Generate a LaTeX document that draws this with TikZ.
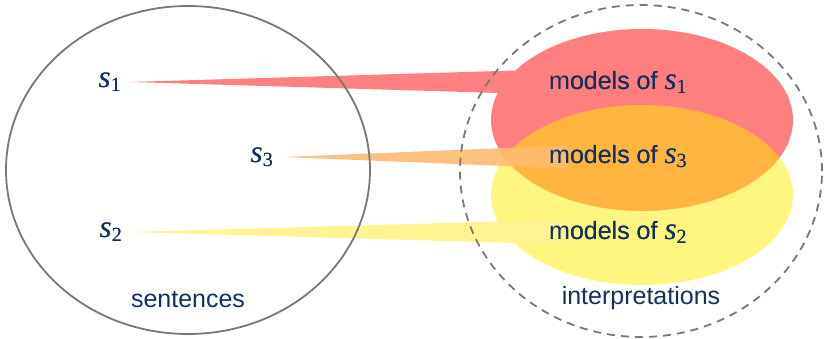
\documentclass[tikz,border=0pt]{standalone}
\usepackage{fontspec}
\setmainfont{Liberation Sans}
\newfontfamily\serifrm{Liberation Serif}
\definecolor{txtblue}{RGB}{16,48,96}
\definecolor{ringgray}{RGB}{120,120,120}
\definecolor{redfill}{RGB}{255,0,0}
\definecolor{yelfill}{RGB}{255,236,0}
\definecolor{redwedge}{RGB}{255,128,128}
\definecolor{orawedge}{RGB}{255,186,112}
\definecolor{yelwedge}{RGB}{255,244,145}
\newcommand{\sv}[1]{{\serifrm\itshape\fontsize{31}{32}\selectfont s}\raisebox{-0.3ex}{\serifrm\fontsize{20}{20}\selectfont #1}}
\tikzset{
  lab/.style={text=txtblue, font=\fontsize{25}{30}\selectfont, inner sep=0pt},
  ring/.style={draw=ringgray, line width=1.8pt},
  dashring/.style={draw=ringgray, line width=1.8pt, dash pattern=on 8pt off 6pt},
}
\begin{document}
\begin{tikzpicture}[x=1pt,y=-1pt]
\useasboundingbox (0,0) rectangle (827,339);
% model ellipses
\fill[redfill, fill opacity=0.5] (642,120) ellipse [x radius=151pt, y radius=91pt];
\fill[yelfill, fill opacity=0.5] (642,195) ellipse [x radius=151pt, y radius=90pt];
% labels
\node[lab, anchor=east] (s1) at (121,82) {\sv1};
\node[lab, anchor=east] (s3) at (273,157) {\sv3};
\node[lab, anchor=east] (s2) at (122,232) {\sv2};
\node[lab, anchor=west] (m1) at (549,82) {models of \sv1};
\node[lab, anchor=west] (m3) at (549,157) {models of \sv3};
\node[lab, anchor=west] (m2) at (549,232) {models of \sv2};
% wedges
\fill[redwedge] ([xshift=9pt]s1.east) -- ([xshift=18pt,yshift=13pt]m1.west) -- ([xshift=18pt,yshift=-13pt]m1.west) -- cycle;
\fill[orawedge, fill opacity=0.9] ([xshift=11pt]s3.east) -- ([xshift=18pt,yshift=11.5pt]m3.west) -- ([xshift=18pt,yshift=-11.5pt]m3.west) -- cycle;
\fill[yelwedge] ([xshift=9pt]s2.east) -- ([xshift=18pt,yshift=12.5pt]m2.west) -- ([xshift=18pt,yshift=-12.5pt]m2.west) -- cycle;
% rings
\draw[ring] (188,170) ellipse [x radius=182pt, y radius=164pt];
\draw[dashring] (641,171) ellipse [x radius=181pt, y radius=166pt];
% re-place texts on top
\node[lab, anchor=east] at (s1.east) {\sv1};
\node[lab, anchor=east] at (s3.east) {\sv3};
\node[lab, anchor=east] at (s2.east) {\sv2};
\node[lab, anchor=west] at (m1.west) {models of \sv1};
\node[lab, anchor=west] at (m3.west) {models of \sv3};
\node[lab, anchor=west] at (m2.west) {models of \sv2};
\node[lab] (sent) at (188,300) {sentences};
\node[lab] (interp) at (641,298) {interpretations};
\end{tikzpicture}
\end{document}
